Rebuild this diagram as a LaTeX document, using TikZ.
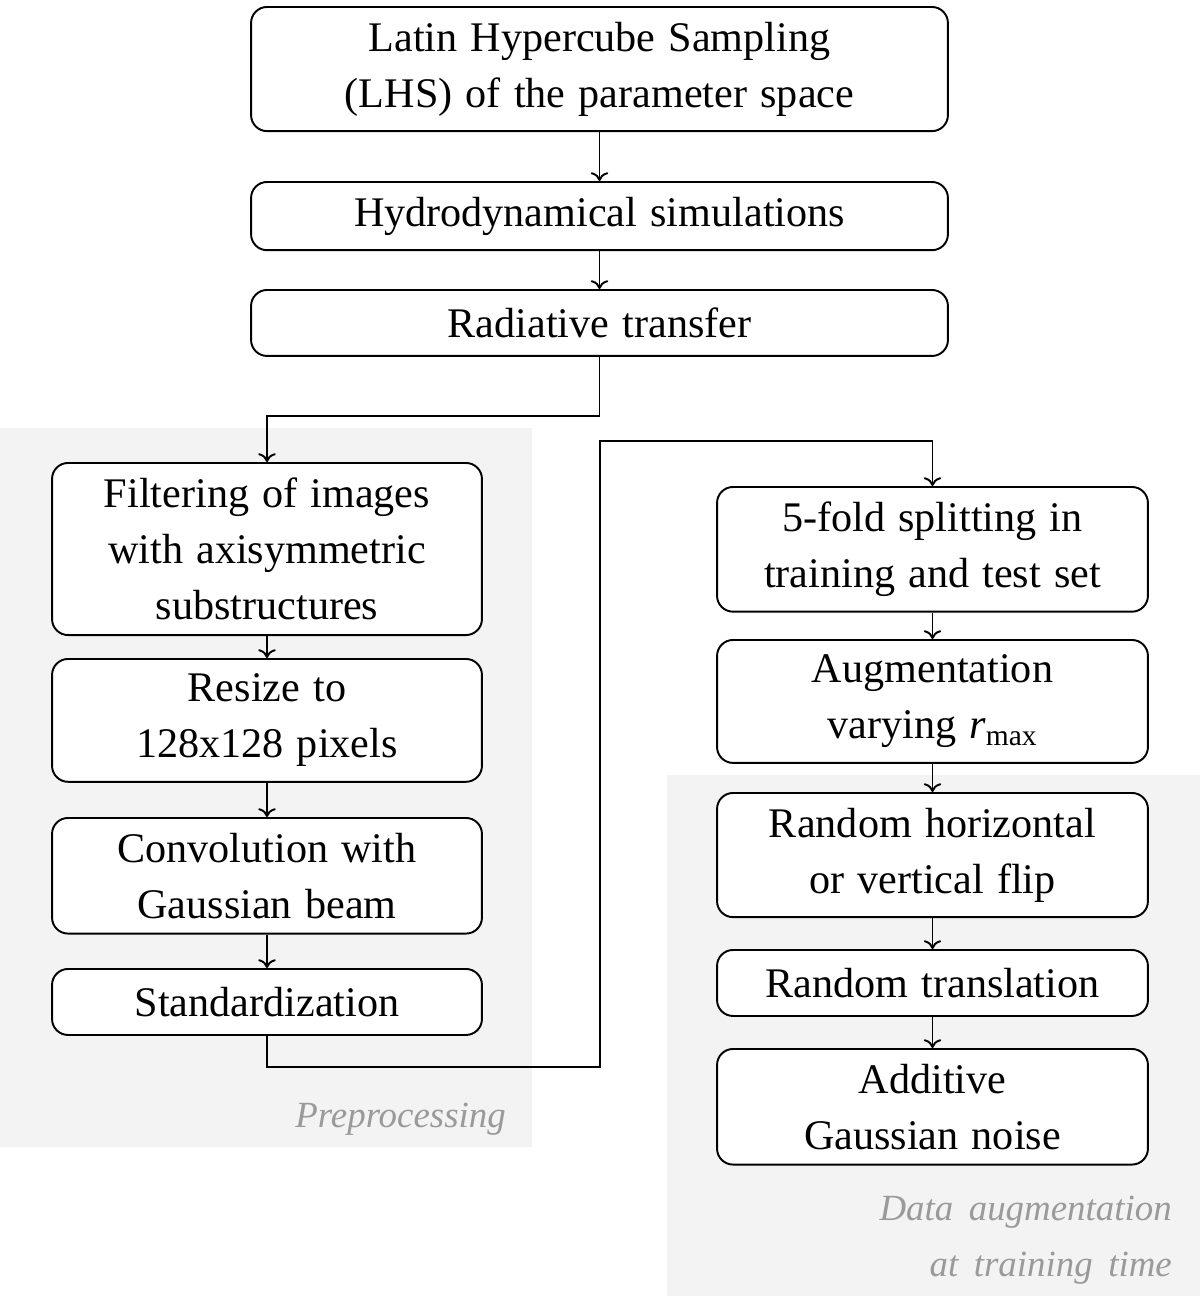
\documentclass[tikz,border=0pt]{standalone}
\usepackage{fontspec}
\setmainfont{Liberation Serif}[WordSpace=1.25]
\usepackage{xcolor}
\usepackage{tikz}
\usetikzlibrary{positioning,arrows.meta}

\definecolor{areagray}{HTML}{F3F3F3}
\definecolor{labelgray}{HTML}{9A9A9A}
\newcommand{\widespaces}{\spaceskip=0.42em\relax}

\tikzset{
    stepbox/.style={draw, line width=1.1pt, rounded corners=0.32cm, fill=white,
        align=center, anchor=north, inner xsep=4pt, inner ysep=8.5pt,
        minimum height=1.32cm, font=\fontsize{24}{31.9}\selectfont},
    arr/.style={line width=1.1pt, -{To[length=5pt,width=10pt]}},
    arealabel/.style={text=labelgray, align=right,
        font=\fontsize{21}{31.9}\selectfont\itshape\widespaces}
}

\begin{document}
\begin{tikzpicture}[x=0.02cm, y=-0.02cm]
    \useasboundingbox (0,0) rectangle (1200,1296);

    % grey areas
    \fill[areagray] (0,428) rectangle (532,1147);
    \fill[areagray] (667,775) rectangle (1200,1296);

    % top boxes
    \node[stepbox, minimum width=13.94cm] (lhs) at (599.5,6) {Latin Hypercube Sampling\\(LHS) of the parameter space};
    \node[stepbox, minimum width=13.94cm] (hydro) at (599.5,181) {Hydrodynamical simulations};
    \node[stepbox, minimum width=13.94cm] (rad) at (599.5,289) {Radiative transfer};

    % preprocessing column
    \node[stepbox, minimum width=8.6cm] (filter) at (267,462) {Filtering of images\\with axisymmetric\\substructures};
    \node[stepbox, minimum width=8.6cm] (resize) at (267,658) {Resize to\\128x128 pixels};
    \node[stepbox, minimum width=8.6cm] (conv) at (267,817) {Convolution with\\Gaussian beam};
    \node[stepbox, minimum width=8.6cm] (std) at (267,968) {Standardization};

    % augmentation column
    \node[stepbox, minimum width=8.62cm] (fold) at (932.5,486) {5-fold splitting in\\training and test set};
    \node[stepbox, minimum width=8.62cm] (augm) at (932.5,639) {Augmentation\\varying \textit{r}\textsubscript{max}};
    \node[stepbox, minimum width=8.62cm] (flip) at (932.5,792) {Random horizontal\\or vertical flip};
    \node[stepbox, minimum width=8.62cm] (transl) at (932.5,949) {Random translation};
    \node[stepbox, minimum width=8.62cm] (noise) at (932.5,1048) {Additive\\Gaussian noise};

    % area labels
    \node[arealabel, anchor=east] (prelbl) at (512,1119) {Preprocessing};
    \node[arealabel, anchor=east] (auglbl) at (1178,1240) {Data augmentation\\at training time};

    % connectors
    \draw[arr] (lhs) -- (hydro);
    \draw[arr] (hydro) -- (rad);
    \draw[arr] (rad.south) -- ++(0,59) -| (filter.north);
    \draw[arr] (filter) -- (resize);
    \draw[arr] (resize) -- (conv);
    \draw[arr] (conv) -- (std);
    \draw[arr] (std.south) |- (600,1067) -- (600,441) -| (fold.north);
    \draw[arr] (fold) -- (augm);
    \draw[arr] (augm) -- (flip);
    \draw[arr] (flip) -- (transl);
    \draw[arr] (transl) -- (noise);
\end{tikzpicture}
\end{document}
